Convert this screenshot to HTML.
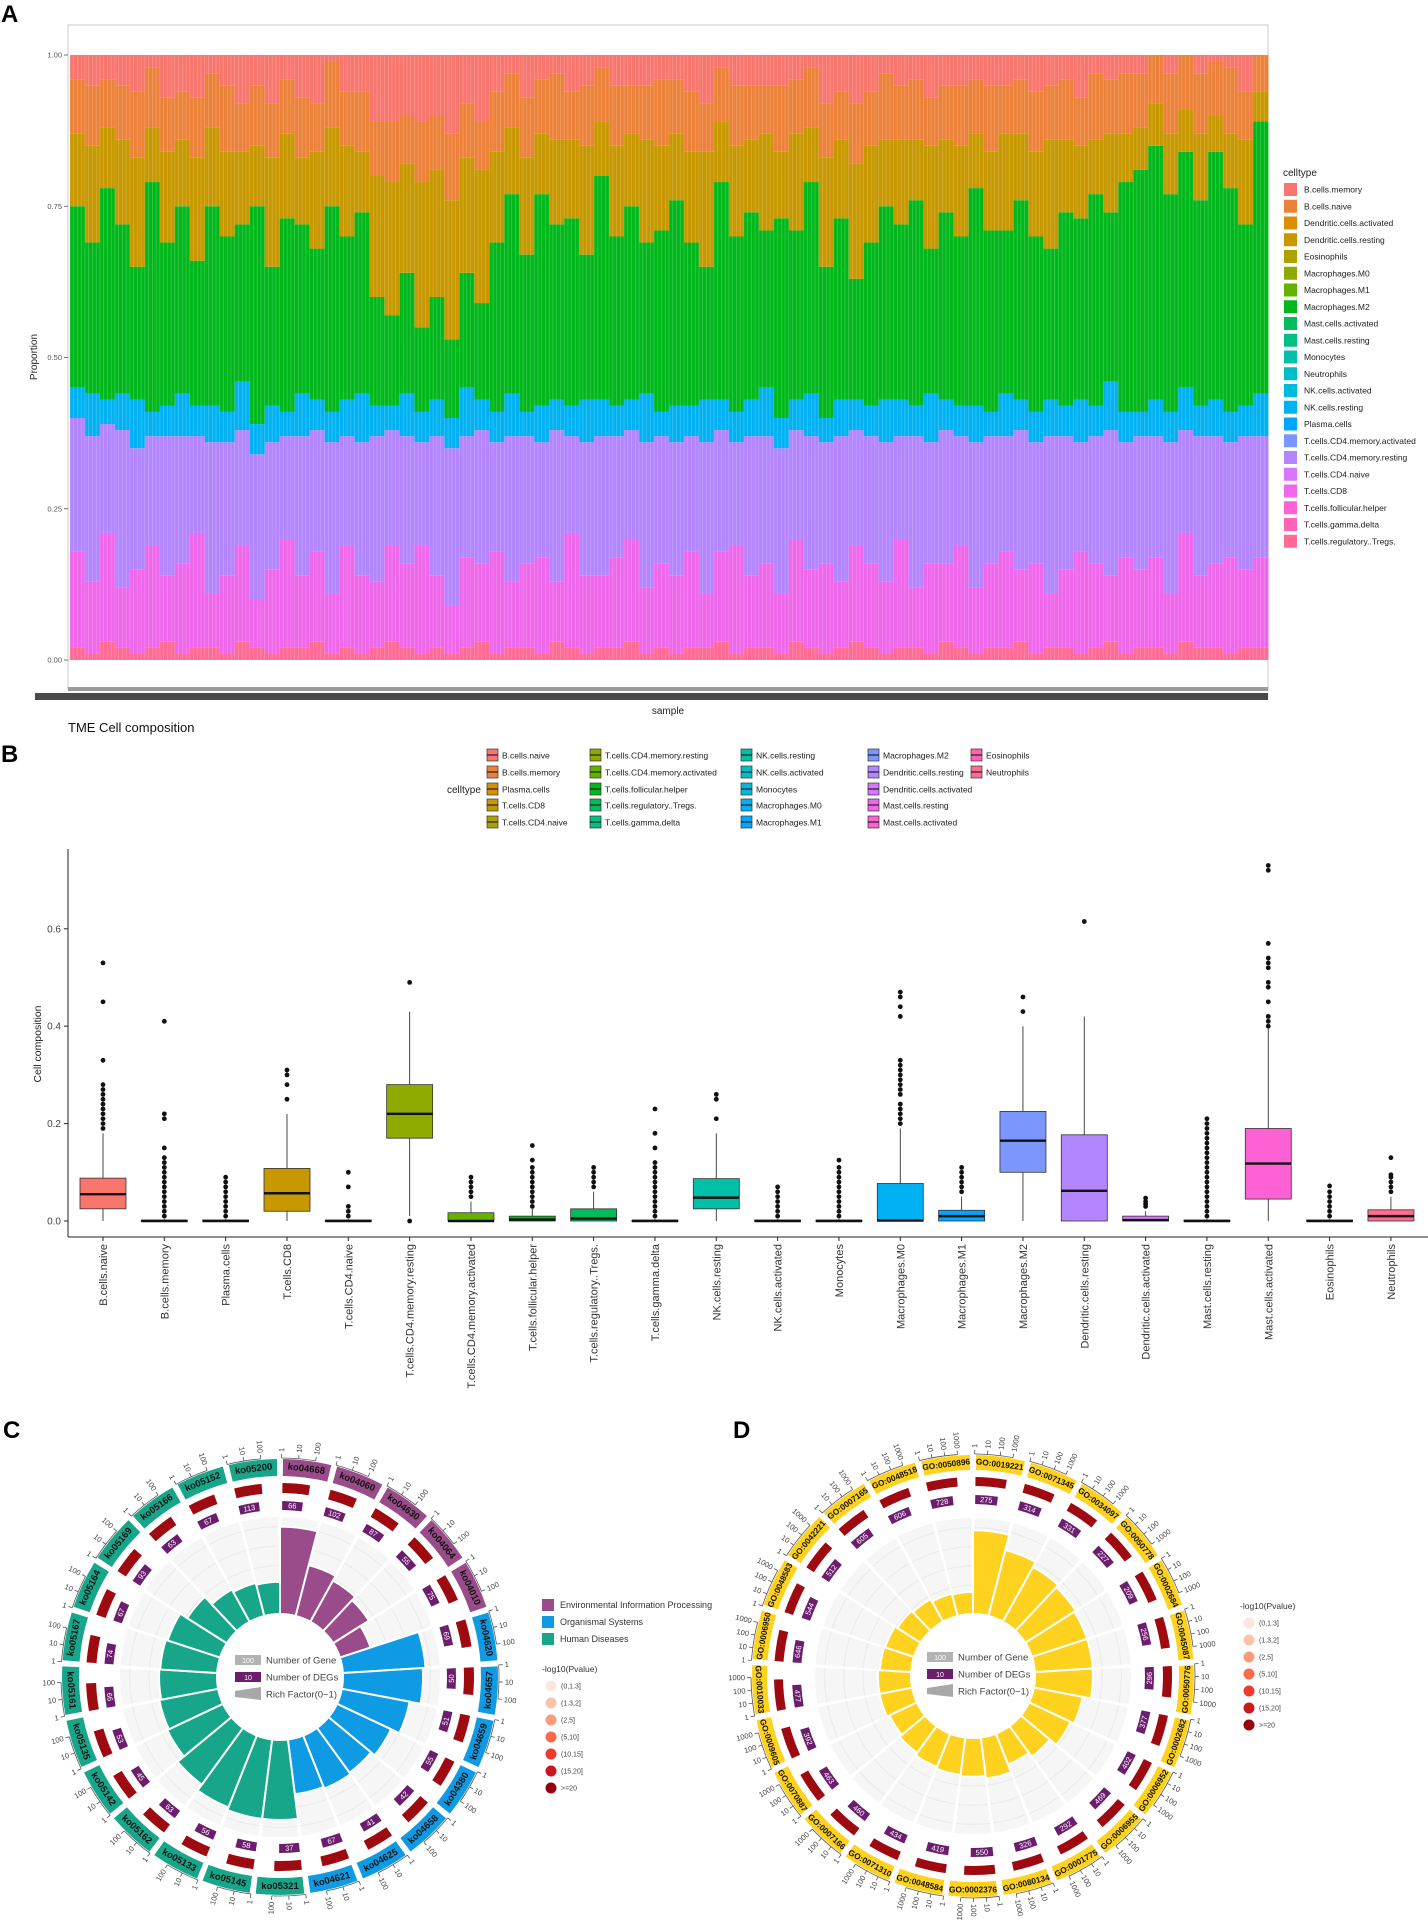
<!DOCTYPE html>
<html><head><meta charset="utf-8"><style>
html,body{margin:0;padding:0;background:#fff;}
svg{display:block;font-family:"Liberation Sans",sans-serif;}
</style></head><body>
<svg id="fig" width="1428" height="1927" viewBox="0 0 1428 1927" xmlns="http://www.w3.org/2000/svg">
<rect x="0" y="0" width="1428" height="1927" fill="#fff"/>
<text x="1" y="22" font-size="24" font-weight="bold">A</text>
<text x="1" y="762" font-size="24" font-weight="bold">B</text>
<text x="3" y="1438" font-size="24" font-weight="bold">C</text>
<text x="733" y="1438" font-size="24" font-weight="bold">D</text>
<g id="pa"></g>
<g id="pb"></g>
<g id="pc"></g>
<g id="pd"></g>
</svg>
<script>
// ---------- Panel A data (per-sample proportions, bottom to top) ----------
const aTregs=[0.02,0.01,0.03,0.02,0.01,0.02,0.03,0.01,0.02,0.02,0.01,0.03,0.02,0.01,0.02,0.02,0.03,0.01,0.02,0.01,0.02,0.03,0.02,0.01,0.02,0.01,0.02,0.03,0.01,0.02,0.02,0.01,0.03,0.02,0.01,0.02,0.02,0.03,0.01,0.02,0.01,0.02,0.02,0.03,0.01,0.02,0.02,0.01,0.03,0.02,0.01,0.02,0.03,0.02,0.01,0.02,0.02,0.01,0.03,0.02,0.01,0.02,0.02,0.03,0.01,0.02,0.02,0.01,0.02,0.03,0.01,0.02,0.02,0.01,0.03,0.02,0.02,0.01,0.02,0.02];
const aCD8=[0.16,0.12,0.18,0.10,0.14,0.17,0.11,0.15,0.19,0.09,0.13,0.16,0.08,0.14,0.18,0.12,0.15,0.10,0.17,0.13,0.11,0.16,0.14,0.18,0.12,0.08,0.15,0.13,0.17,0.11,0.14,0.16,0.10,0.19,0.13,0.12,0.15,0.17,0.11,0.14,0.13,0.16,0.09,0.15,0.18,0.12,0.14,0.10,0.17,0.13,0.15,0.11,0.16,0.14,0.12,0.18,0.10,0.15,0.13,0.17,0.11,0.14,0.16,0.12,0.15,0.09,0.13,0.17,0.14,0.11,0.16,0.13,0.15,0.10,0.18,0.12,0.14,0.16,0.13,0.15];
const aCD4rest=[0.22,0.24,0.18,0.26,0.20,0.18,0.23,0.21,0.16,0.25,0.22,0.19,0.24,0.21,0.17,0.23,0.20,0.25,0.18,0.22,0.24,0.19,0.21,0.17,0.23,0.26,0.20,0.22,0.18,0.24,0.21,0.19,0.25,0.16,0.22,0.23,0.20,0.18,0.24,0.21,0.22,0.19,0.25,0.20,0.17,0.23,0.21,0.24,0.18,0.22,0.20,0.24,0.19,0.21,0.23,0.17,0.25,0.20,0.22,0.18,0.24,0.21,0.19,0.23,0.20,0.26,0.22,0.18,0.21,0.24,0.19,0.22,0.20,0.25,0.17,0.23,0.21,0.19,0.22,0.20];
const aNK=[0.05,0.07,0.04,0.06,0.08,0.04,0.05,0.07,0.05,0.06,0.05,0.08,0.05,0.06,0.04,0.07,0.05,0.05,0.06,0.08,0.05,0.04,0.07,0.05,0.06,0.05,0.08,0.05,0.05,0.07,0.04,0.06,0.05,0.05,0.07,0.06,0.05,0.05,0.08,0.04,0.06,0.05,0.07,0.05,0.05,0.06,0.08,0.05,0.05,0.07,0.04,0.06,0.05,0.05,0.07,0.06,0.05,0.08,0.05,0.05,0.06,0.04,0.07,0.05,0.05,0.06,0.05,0.07,0.05,0.08,0.05,0.04,0.06,0.05,0.07,0.05,0.06,0.05,0.05,0.07];
const aMac=[0.30,0.25,0.35,0.28,0.22,0.38,0.27,0.31,0.24,0.33,0.29,0.26,0.36,0.23,0.32,0.28,0.25,0.34,0.27,0.30,0.18,0.15,0.20,0.14,0.17,0.13,0.19,0.16,0.28,0.33,0.26,0.35,0.29,0.31,0.24,0.37,0.28,0.32,0.25,0.30,0.34,0.27,0.22,0.36,0.29,0.31,0.26,0.33,0.28,0.35,0.25,0.30,0.20,0.27,0.32,0.29,0.34,0.24,0.31,0.28,0.36,0.30,0.27,0.33,0.29,0.25,0.32,0.30,0.35,0.28,0.38,0.40,0.42,0.36,0.39,0.34,0.41,0.37,0.30,0.45];
const aDC=[0.12,0.16,0.10,0.14,0.18,0.09,0.15,0.11,0.17,0.13,0.14,0.12,0.10,0.18,0.14,0.11,0.16,0.13,0.15,0.10,0.20,0.22,0.18,0.24,0.21,0.23,0.19,0.22,0.15,0.11,0.16,0.10,0.14,0.13,0.18,0.09,0.15,0.12,0.17,0.14,0.11,0.15,0.19,0.10,0.15,0.12,0.16,0.11,0.16,0.09,0.18,0.13,0.19,0.16,0.11,0.14,0.10,0.17,0.12,0.15,0.09,0.13,0.16,0.11,0.14,0.18,0.12,0.12,0.09,0.13,0.08,0.07,0.07,0.10,0.07,0.11,0.06,0.09,0.14,0.05];
const aNaive=[0.09,0.10,0.08,0.09,0.11,0.10,0.09,0.08,0.10,0.09,0.11,0.08,0.10,0.09,0.09,0.10,0.08,0.11,0.09,0.10,0.09,0.10,0.08,0.10,0.09,0.11,0.09,0.08,0.10,0.09,0.10,0.09,0.11,0.08,0.10,0.09,0.10,0.08,0.09,0.11,0.09,0.10,0.08,0.09,0.10,0.09,0.08,0.11,0.09,0.10,0.09,0.08,0.10,0.09,0.11,0.09,0.10,0.08,0.09,0.10,0.09,0.11,0.08,0.09,0.10,0.09,0.10,0.08,0.11,0.09,0.10,0.09,0.08,0.10,0.09,0.10,0.09,0.11,0.08,0.09];
const aTicks=[0,0.25,0.5,0.75,1];
const aTickLabels=["0.00","0.25","0.50","0.75","1.00"];
const aLegend=["B.cells.memory","B.cells.naive","Dendritic.cells.activated","Dendritic.cells.resting","Eosinophils","Macrophages.M0","Macrophages.M1","Macrophages.M2","Mast.cells.activated","Mast.cells.resting","Monocytes","Neutrophils","NK.cells.activated","NK.cells.resting","Plasma.cells","T.cells.CD4.memory.activated","T.cells.CD4.memory.resting","T.cells.CD4.naive","T.cells.CD8","T.cells.follicular.helper","T.cells.gamma.delta","T.cells.regulatory..Tregs."];

// ---------- Panel B data ----------
const bCats=["B.cells.naive","B.cells.memory","Plasma.cells","T.cells.CD8","T.cells.CD4.naive","T.cells.CD4.memory.resting","T.cells.CD4.memory.activated","T.cells.follicular.helper","T.cells.regulatory..Tregs.","T.cells.gamma.delta","NK.cells.resting","NK.cells.activated","Monocytes","Macrophages.M0","Macrophages.M1","Macrophages.M2","Dendritic.cells.resting","Dendritic.cells.activated","Mast.cells.resting","Mast.cells.activated","Eosinophils","Neutrophils"];
const bQ1=[0.025,0,0,0.02,0,0.17,0,0,0,0,0.025,0,0,0,0,0.10,0,0,0,0.045,0,0];
const bMed=[0.055,0,0,0.057,0,0.22,0,0.003,0.005,0,0.048,0,0,0.001,0.01,0.165,0.062,0.002,0,0.118,0,0.01];
const bQ3=[0.088,0.002,0.002,0.108,0.002,0.28,0.017,0.01,0.025,0.002,0.087,0.002,0.002,0.077,0.022,0.225,0.177,0.01,0.002,0.19,0.002,0.023];
const bLo=[0,0,0,0,0,0.01,0,0,0,0,0,0,0,0,0,0,0,0,0,0,0,0];
const bHi=[0.18,0.004,0.004,0.22,0.004,0.43,0.04,0.025,0.06,0.004,0.18,0.004,0.004,0.19,0.05,0.40,0.42,0.02,0.004,0.395,0.004,0.05];
const bOut=[
 [0.53,0.45,0.33,0.28,0.27,0.26,0.25,0.24,0.23,0.22,0.21,0.20,0.19],
 [0.41,0.22,0.21,0.15,0.13,0.12,0.11,0.10,0.09,0.08,0.07,0.06,0.05,0.04,0.03,0.02,0.01],
 [0.09,0.08,0.07,0.06,0.05,0.04,0.03,0.02,0.01],
 [0.31,0.30,0.28,0.25],
 [0.10,0.07,0.03,0.02,0.01],
 [0.49,0.0],
 [0.09,0.08,0.07,0.06,0.05],
 [0.155,0.125,0.11,0.10,0.09,0.08,0.07,0.06,0.05,0.04,0.03],
 [0.11,0.10,0.09,0.08,0.07],
 [0.23,0.18,0.15,0.12,0.11,0.10,0.09,0.08,0.07,0.06,0.05,0.04,0.03,0.02,0.01],
 [0.26,0.25,0.21],
 [0.07,0.06,0.05,0.04,0.03,0.02,0.01],
 [0.125,0.11,0.10,0.09,0.08,0.07,0.06,0.05,0.04,0.03,0.02,0.01],
 [0.47,0.46,0.44,0.42,0.33,0.32,0.31,0.30,0.29,0.28,0.27,0.26,0.24,0.23,0.22,0.21,0.20],
 [0.11,0.10,0.09,0.08,0.07,0.06],
 [0.46,0.43],
 [0.615],
 [0.047,0.04,0.035,0.03],
 [0.21,0.20,0.19,0.18,0.17,0.16,0.15,0.14,0.13,0.12,0.11,0.10,0.09,0.08,0.07,0.06,0.05,0.04,0.03,0.02,0.01],
 [0.73,0.72,0.57,0.54,0.53,0.52,0.49,0.48,0.45,0.42,0.41,0.40],
 [0.072,0.06,0.05,0.04,0.03,0.02,0.01],
 [0.13,0.095,0.09,0.08,0.07,0.06]];
const bTicks=[0,0.2,0.4,0.6];
const bTickLabels=["0.0","0.2","0.4","0.6"];

// ---------- Panel C data ----------
const cTerms=["ko04668","ko04060","ko04630","ko04064","ko04010","ko04620","ko04657","ko04659","ko04380","ko04658","ko04625","ko04621","ko05321","ko05145","ko05133","ko05162","ko05142","ko05135","ko05161","ko05167","ko05164","ko05169","ko05166","ko05152","ko05200"];
const cGroup=[0,0,0,0,0,1,1,1,1,1,1,1,2,2,2,2,2,2,2,2,2,2,2,2,2];
const cRich=[0.95,0.57,0.51,0.46,0.35,0.90,0.87,0.75,0.65,0.60,0.62,0.60,0.87,0.87,0.84,0.76,0.67,0.65,0.63,0.62,0.60,0.51,0.40,0.37,0.35];
const cDEG=[66,102,87,55,75,69,50,51,55,42,41,67,37,58,56,63,45,53,66,74,67,93,63,67,113];
const cTickLabels=["1","10","100"];
const cGroupNames=["Environmental Information Processing","Organismal Systems","Human Diseases"];

// ---------- Panel D data ----------
const dTerms=["GO:0019221","GO:0071345","GO:0034097","GO:0050778","GO:0002684","GO:0045087","GO:0050776","GO:0002682","GO:0006952","GO:0006955","GO:0001775","GO:0080134","GO:0002376","GO:0048584","GO:0071310","GO:0007166","GO:0070887","GO:0009605","GO:0010033","GO:0006950","GO:0048583","GO:0042221","GO:0007165","GO:0048518","GO:0050896"];
const dRich=[0.91,0.74,0.68,0.65,0.63,0.63,0.63,0.54,0.50,0.41,0.36,0.45,0.42,0.41,0.39,0.36,0.33,0.36,0.36,0.34,0.33,0.30,0.28,0.25,0.24];
const dDEG=[275,314,331,227,209,256,296,377,402,469,292,326,550,419,434,460,463,392,477,646,544,512,605,606,728];
const dTickLabels=["1","10","100","1000"];
const pLegend=["(0,1.3]","(1.3,2]","(2,5]","(5,10]","(10,15]","(15,20]",">=20"];
const pColors=["#fde7dc","#fcc3aa","#fc9a7b","#fb6a4a","#ef3b2c","#cb181d","#99000d"];

// ---------- helpers ----------
const NS="http://www.w3.org/2000/svg";
function mk(tag,parent,attrs){const e=document.createElementNS(NS,tag);for(const k in attrs)e.setAttribute(k,attrs[k]);parent.appendChild(e);return e;}
function hcl(h,c,l){const hr=h*Math.PI/180,U=c*Math.cos(hr),V=c*Math.sin(hr);
 const Xn=0.95047,Yn=1,Zn=1.08883,d=Xn+15*Yn+3*Zn,un=4*Xn/d,vn=9*Yn/d;
 const Y=l>8?Yn*Math.pow((l+16)/116,3):Yn*l/903.3;const u=U/(13*l)+un,v=V/(13*l)+vn;
 const X=Y*9*u/(4*v),Z=Y*(12-3*u-20*v)/(4*v);
 let r=3.2404542*X-1.5371385*Y-0.4985314*Z,g=-0.9692660*X+1.8760108*Y+0.0415560*Z,b=0.0556434*X-0.2040259*Y+1.0572252*Z;
 const f=x=>{x=x<=0.0031308?12.92*x:1.055*Math.pow(x,1/2.4)-0.055;return Math.round(Math.max(0,Math.min(1,x))*255);};
 return `rgb(${f(r)},${f(g)},${f(b)})`;}
function hue(n){const a=[];for(let i=0;i<n;i++)a.push(hcl(15+360*i/n,100,65));return a;}
const pal=hue(22);

// ---------- Panel A ----------
(function(){
 const g=document.getElementById('pa');
 const x0=70,x1=1268,yA=v=>660-v*605;
 const frame=mk('rect',g,{x:68,y:25,width:1200,height:665,fill:'#fff',stroke:'#ccc','stroke-width':1});
 
 
 const n=aCD8.length,w=(x1-x0)/n;
 const layers=[[aTregs,pal[21]],[aCD8,pal[18]],[aCD4rest,pal[16]],[aNK,pal[13]],[aMac,pal[7]],[aDC,pal[3]],[aNaive,pal[1]]];
 const names=['tregs','cd8','cd4-resting','nk-resting','macrophages-m2','dendritic','b-naive'];
 for(let i=0;i<n;i++){
  let cum=0;
  layers.forEach((L,k)=>{
   const v=L[0][i];const top=Math.min(1,cum+v);
   const r=mk('rect',g,{x:(x0+i*w).toFixed(2),y:yA(top).toFixed(2),width:(w+0.4).toFixed(2),height:(yA(cum)-yA(top)).toFixed(2),fill:L[1]});
   
   
   cum=top;});
  const r=mk('rect',g,{x:(x0+i*w).toFixed(2),y:yA(1),width:(w+0.4).toFixed(2),height:Math.max(0,yA(cum)-yA(1)).toFixed(2),fill:pal[0]});
  
  
  for(let s=0;s<4;s++){
   const sx=x0+i*w+s*w/4;
   const sl=mk('line',g,{x1:sx,x2:sx,y1:yA(1),y2:yA(0),stroke:'#fff','stroke-opacity':0.3,'stroke-width':0.6});
   
   
  }
 }
 aTicks.forEach((t,i)=>{
  const tl=mk('text',g,{x:62,y:yA(t)+2.5,'font-size':7.5,fill:'#555','text-anchor':'end'});tl.textContent=aTickLabels[i];
  
  
  mk('line',g,{x1:64,x2:68,y1:yA(t),y2:yA(t),stroke:'#555','stroke-width':0.8});
 });
 const tb=mk('rect',g,{x:68,y:687,width:1200,height:4,fill:'#9a9a9a'});
 
 
 const lb=mk('rect',g,{x:35,y:693,width:1233,height:7,fill:'#4a4a4a'});
 
 
 const t1=mk('text',g,{x:668,y:714,'font-size':10,fill:'#222','text-anchor':'middle'});t1.textContent='sample';
 
 
 const t2=mk('text',g,{x:37,y:357,'font-size':10,fill:'#222','text-anchor':'middle',transform:'rotate(-90 37 357)'});t2.textContent='Proportion';
 
 
 const t3=mk('text',g,{x:68,y:732,'font-size':13,fill:'#111'});t3.textContent='TME Cell composition';
 
 
 const lt=mk('text',g,{x:1283,y:176,'font-size':10,fill:'#222'});lt.textContent='celltype';
 
 
 aLegend.forEach((nm,i)=>{
  const y=183+i*16.75;
  const k=mk('rect',g,{x:1284,y:y,width:13,height:13,fill:pal[i]});
  
  
  const t=mk('text',g,{x:1304,y:y+9.5,'font-size':8.5,fill:'#222'});t.textContent=nm;
  
  
 });
})();

// ---------- Panel B ----------
(function(){
 const g=document.getElementById('pb');
 const yB=v=>1221-v*487, xB=i=>103+i*61.33;
 const cols=[492,595,746,873,976],rows=[755,772,789,805,822];
 const lt=mk('text',g,{x:447,y:793,'font-size':10,fill:'#222'});lt.textContent='celltype';
 
 
 bCats.forEach((c,i)=>{
  const cx=cols[Math.floor(i/5)],cy=rows[i%5];
  const k=mk('rect',g,{x:cx-5,y:cy-6,width:11,height:12,fill:pal[i],stroke:'#333','stroke-width':0.7});
  
  
  mk('line',g,{x1:cx-5,x2:cx+6,y1:cy,y2:cy,stroke:'#222','stroke-width':1.2});
  const t=mk('text',g,{x:cx+10,y:cy+3.5,'font-size':8.5,fill:'#222'});t.textContent=c;
  
  
 });
 mk('line',g,{x1:68,x2:68,y1:849,y2:1237,stroke:'#222','stroke-width':1});
 mk('line',g,{x1:68,x2:1428,y1:1237,y2:1237,stroke:'#222','stroke-width':1});
 bTicks.forEach((t,i)=>{
  mk('line',g,{x1:64,x2:68,y1:yB(t),y2:yB(t),stroke:'#222'});
  const tl=mk('text',g,{x:61,y:yB(t)+3.5,'font-size':10,fill:'#444','text-anchor':'end'});tl.textContent=bTickLabels[i];
  
  
 });
 const yt=mk('text',g,{x:41,y:1044,'font-size':10.5,fill:'#222','text-anchor':'middle',transform:'rotate(-90 41 1044)'});yt.textContent='Cell composition';
 
 
 bCats.forEach((c,i)=>{
  const x=xB(i),hw=23;
  const wl=mk('line',g,{x1:x,x2:x,y1:yB(bHi[i]),y2:yB(bLo[i]),stroke:'#333','stroke-width':0.9});
  
  
  const b=mk('rect',g,{x:x-hw,y:yB(bQ3[i]),width:2*hw,height:Math.max(1.5,yB(bQ1[i])-yB(bQ3[i])),fill:pal[i],stroke:'#333','stroke-width':0.8});
  
  
  const m=mk('line',g,{x1:x-hw,x2:x+hw,y1:yB(bMed[i]),y2:yB(bMed[i]),stroke:'#111','stroke-width':2.4});
  
  
  bOut[i].forEach(v=>{
   const p=mk('circle',g,{cx:x,cy:yB(v),r:2.4,fill:'#111'});
   
   
  });
  mk('line',g,{x1:x,x2:x,y1:1237,y2:1241,stroke:'#222'});
  const t=mk('text',g,{x:x+4,y:1244,'font-size':11,fill:'#333','text-anchor':'end',transform:`rotate(-90 ${x+4} 1244)`});t.textContent=c;
  
  
 });
})();

// ---------- circular charts ----------
function pt(cx,cy,r,a){const t=a*Math.PI/180;return [cx+r*Math.sin(t),cy-r*Math.cos(t)];}
function sector(cx,cy,r0,r1,a0,a1){const p1=pt(cx,cy,r1,a0),p2=pt(cx,cy,r1,a1),p3=pt(cx,cy,r0,a1),p4=pt(cx,cy,r0,a0);const lg=(a1-a0)>180?1:0;
 return `M${p1[0].toFixed(2)},${p1[1].toFixed(2)}A${r1},${r1} 0 ${lg} 1 ${p2[0].toFixed(2)},${p2[1].toFixed(2)}L${p3[0].toFixed(2)},${p3[1].toFixed(2)}A${r0},${r0} 0 ${lg} 0 ${p4[0].toFixed(2)},${p4[1].toFixed(2)}Z`;}
function tangRot(a){return (a>90&&a<270)?a-180:a;}
function drawCirc(g,cfg){
 const n=cfg.terms.length,seg=360/n;
 for(let i=0;i<n;i++){
  const a0=i*seg,a1=a0+seg,col=cfg.colors[i];
  const bg=mk('path',g,{d:sector(cfg.cx,cfg.cy,cfg.hole,cfg.bg,a0+0.6,a1-0.6),fill:'#f6f6f6'});
  
  
  [0.3,0.5,0.7,0.9].forEach(f=>{const rr=cfg.hole+(cfg.bg-cfg.hole)*f;
   mk('path',g,{d:sector(cfg.cx,cfg.cy,rr-0.6,rr+0.6,a0+0.6,a1-0.6),fill:'#ebebeb'});});
  const rb=cfg.hole+cfg.rich[i]*92;
  const bar=mk('path',g,{d:sector(cfg.cx,cfg.cy,cfg.hole,rb,a0,a1),fill:col,stroke:'#fff','stroke-width':2});
  
  
  const ob=mk('path',g,{d:sector(cfg.cx,cfg.cy,cfg.rIn,cfg.rOut,a0+0.8,a1-0.8),fill:col});
  
  
  const am=(a0+a1)/2,rm=(cfg.rIn+cfg.rOut)/2,pm=pt(cfg.cx,cfg.cy,rm,am),rot=tangRot(am);
  const tl=mk('text',g,{x:pm[0].toFixed(1),y:pm[1].toFixed(1),'font-size':cfg.lfs,'font-weight':'bold',fill:'#111','text-anchor':'middle','dominant-baseline':'central',transform:`rotate(${rot.toFixed(1)} ${pm[0].toFixed(1)} ${pm[1].toFixed(1)})`});
  tl.textContent=cfg.terms[i];
  
  
  const rd=mk('path',g,{d:sector(cfg.cx,cfg.cy,cfg.redIn,cfg.redOut,a0+seg*0.05,a0+seg*cfg.redF),fill:'#9e0a10'});
  
  
  const pa1=a0+seg*0.05,pa2=a0+seg*cfg.purF;
  const pb=mk('path',g,{d:sector(cfg.cx,cfg.cy,cfg.purIn,cfg.purOut,pa1,pa2),fill:'#6c1d6e'});
  
  
  const ap=(pa1+pa2)/2,pp=pt(cfg.cx,cfg.cy,(cfg.purIn+cfg.purOut)/2,ap),rp=tangRot(ap);
  const nt=mk('text',g,{x:pp[0].toFixed(1),y:pp[1].toFixed(1),'font-size':7.5,fill:'#fff','text-anchor':'middle','dominant-baseline':'central',transform:`rotate(${rp.toFixed(1)} ${pp[0].toFixed(1)} ${pp[1].toFixed(1)})`});
  nt.textContent=cfg.deg[i];
  
  
  cfg.ticks.forEach((lab,k)=>{
   const at=a0+seg*(0.03+k*cfg.tickStep);
   const q1=pt(cfg.cx,cfg.cy,cfg.rOut+1,at),q2=pt(cfg.cx,cfg.cy,cfg.rOut+5,at),q3=pt(cfg.cx,cfg.cy,cfg.rOut+7,at);
   mk('line',g,{x1:q1[0],y1:q1[1],x2:q2[0],y2:q2[1],stroke:'#555','stroke-width':0.8});
   const right=at<180;
   const tt=mk('text',g,{x:q3[0].toFixed(1),y:q3[1].toFixed(1),'font-size':7.5,fill:'#444','text-anchor':right?'start':'end','dominant-baseline':'central',transform:`rotate(${(right?at-90:at+90).toFixed(1)} ${q3[0].toFixed(1)} ${q3[1].toFixed(1)})`});
   tt.textContent=lab;
   
   
  });
  const ax1=pt(cfg.cx,cfg.cy,cfg.rOut+1,a0+seg*0.03),ax2=pt(cfg.cx,cfg.cy,cfg.rOut+1,a0+seg*(0.03+(cfg.ticks.length-1)*cfg.tickStep));
  mk('path',g,{d:`M${ax1[0]},${ax1[1]}A${cfg.rOut+1},${cfg.rOut+1} 0 0 1 ${ax2[0]},${ax2[1]}`,fill:'none',stroke:'#555','stroke-width':0.8});
 }
 const L=cfg.leg;
 const r1=mk('rect',g,{x:L.x,y:L.y-5,width:26,height:10,fill:'#b3b3b3'});
 
 
 const a=mk('text',g,{x:L.x+13,y:L.y+3,'font-size':7,fill:'#fff','text-anchor':'middle'});a.textContent='100';
 
 
 const r2=mk('rect',g,{x:L.x,y:L.y+12,width:26,height:10,fill:'#6c1d6e'});
 
 
 const b=mk('text',g,{x:L.x+13,y:L.y+20,'font-size':7,fill:'#fff','text-anchor':'middle'});b.textContent='10';
 
 
 const tr=mk('path',g,{d:`M${L.x},${L.y+31}L${L.x+26},${L.y+27}L${L.x+26},${L.y+40}L${L.x},${L.y+37}Z`,fill:'#a8a8a8'});
 
 
 [['Number of Gene',0],['Number of DEGs',17],['Rich Factor(0~1)',34]].forEach(([s,dy])=>{
  const t=mk('text',g,{x:L.x+31,y:L.y+dy+3.5,'font-size':9.5,fill:'#444'});t.textContent=s;
  
  
 });
 const P=cfg.pleg;
 const pt0=mk('text',g,{x:P.x-9,y:P.y,'font-size':8.5,fill:'#333'});pt0.textContent='-log10(Pvalue)';
 
 
 pLegend.forEach((s,k)=>{
  const y=P.y+14+k*17;
  const c=mk('circle',g,{cx:P.x,cy:y,r:5.5,fill:pColors[k]});
  
  
  const t=mk('text',g,{x:P.x+10,y:y+2.5,'font-size':7,fill:'#444'});t.textContent=s;
  
  
 });
}
const cCols=['#9a4b89','#0f9be3','#17a68a'];
(function(){
 const g=document.getElementById('pc');
 drawCirc(g,{terms:cTerms,colors:cGroup.map(k=>cCols[k]),rich:cRich,deg:cDEG,ticks:cTickLabels,tickStep:0.31,
  cx:280,cy:1677,rOut:218,rIn:201,redOut:194,redIn:184,purOut:176,purIn:167,bg:160,hole:63,lfs:9.5,redF:0.62,purF:0.52,
  leg:{x:235,y:1660},pleg:{x:551,y:1672}});
 cGroupNames.forEach((s,k)=>{
  const y=1599+k*17;
  const r=mk('rect',g,{x:542,y:y,width:12,height:12,fill:cCols[k]});
  
  
  const t=mk('text',g,{x:560,y:y+9,'font-size':9,fill:'#333'});t.textContent=s;
  
  
 });
})();
(function(){
 const g=document.getElementById('pd');
 drawCirc(g,{terms:dTerms,colors:dTerms.map(()=>'#ffd21f'),rich:dRich,deg:dDEG,ticks:dTickLabels,tickStep:0.23,
  cx:973,cy:1676,rOut:221,rIn:206,redOut:199,redIn:190,purOut:181,purIn:172,bg:158,hole:62,lfs:8.3,redF:0.68,purF:0.55,
  leg:{x:927,y:1657},pleg:{x:1249,y:1609}});
})();
</script>
</body></html>
